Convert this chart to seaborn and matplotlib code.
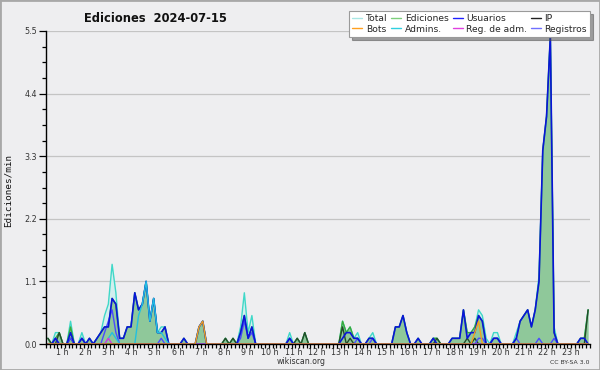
import numpy as np
import pandas as pd
import matplotlib
matplotlib.use("Agg")
import matplotlib.pyplot as plt
from matplotlib.lines import Line2D
from matplotlib.patches import Rectangle
import seaborn as sns

# ---- data: edits per minute, 10-minute bins (6 per hour, 24 hours) ----
total = [.1,0,.2,.2,0,0,  .4,0,0,.2,0,.1,  0,.1,.2,.5,.7,1.4,  .9,.1,.1,.3,.3,.9,
         .6,.7,1.1,.4,.8,.2,  .3,.3,0,0,0,0,  .1,0,0,0,.3,.4,  0,0,0,0,0,.1,
         0,.1,0,.3,.9,.2,  .5,0,0,0,0,0,  0,0,0,0,.2,0,  .1,0,.2,0,0,0,
         0,0,0,0,0,0,  .4,.2,.3,.1,.2,0,  0,.1,.2,0,0,0,  0,0,.3,.3,.5,.2,
         0,0,.1,0,0,0,  .1,.1,0,0,0,.1,  .1,.1,.6,.2,.2,.3,  .6,.5,.1,0,.2,.2,
         0,0,0,0,.2,.4,  .5,.6,.3,.6,1.2,3.4,  4.0,5.4,.3,0,0,0,  0,0,0,.1,.1,.6]
ediciones = [.1,0,.1,.2,0,0,  .3,0,0,.1,0,.1,  0,.1,.2,.3,.3,.8,  .7,.1,.1,.3,.3,.9,
             .6,.7,1.1,.4,.8,.2,  .2,.3,0,0,0,0,  .1,0,0,0,.3,.4,  0,0,0,0,0,.1,
             0,.1,0,.2,.5,.1,  .3,0,0,0,0,0,  0,0,0,0,.1,0,  .1,0,.2,0,0,0,
             0,0,0,0,0,0,  .4,.2,.3,.1,.1,0,  0,.1,.1,0,0,0,  0,0,.3,.3,.5,.2,
             0,0,.1,0,0,0,  .1,.1,0,0,0,.1,  .1,.1,.6,.2,.2,.3,  .5,.4,0,0,.1,.1,
             0,0,0,0,.1,.4,  .5,.6,.3,.6,1.1,3.4,  4.0,5.4,.2,0,0,0,  0,0,0,.1,.1,.6]
usuarios = [0,0,.1,0,0,0,  .2,0,0,.1,0,.1,  0,.1,.2,.3,.3,.8,  .7,.1,.1,.3,.3,.9,
            .6,.7,1.1,.4,.8,.2,  .2,.3,0,0,0,0,  .1,0,0,0,.3,.4,  0,0,0,0,0,0,
            0,0,0,.2,.5,.1,  .3,0,0,0,0,0,  0,0,0,0,.1,0,  0,0,0,0,0,0,
            0,0,0,0,0,0,  .1,.2,.2,.1,.1,0,  0,.1,.1,0,0,0,  0,0,.3,.3,.5,.2,
            0,0,.1,0,0,0,  .1,0,0,0,0,.1,  .1,.1,.6,.1,.2,.2,  .5,.4,0,0,.1,.1,
            0,0,0,0,.1,.4,  .5,.6,.3,.6,1.1,3.4,  4.0,5.4,.2,0,0,0,  0,0,0,.1,.1,0]
ip = [.1,0,0,.2,0,0,  .1,0,0,0,0,0,  0,0,0,0,0,0,  0,0,0,0,0,0,
      0,0,0,0,0,0,  0,0,0,0,0,0,  0,0,0,0,0,0,  0,0,0,0,0,.1,
      0,.1,0,0,0,0,  0,0,0,0,0,0,  0,0,0,0,0,0,  .1,0,.2,0,0,0,
      0,0,0,0,0,0,  .3,0,.1,0,0,0,  0,0,0,0,0,0,  0,0,0,0,0,0,
      0,0,0,0,0,0,  0,.1,0,0,0,0,  0,0,0,.1,0,.1,  0,0,0,0,0,0,
      0,0,0,0,0,0,  0,0,0,0,0,0,  0,0,0,0,0,0,  0,0,0,0,0,.6]
bots = [0]*36 + [0,0,0,0,.3,.4] + [0]*66 + [0,0,0,0,0,.2] + [.4,0,0,0,0,0] + [0]*24
admins = [0]*12 + [0,0,0,0,.1,.2] + [.1,0,0,0,0,0] + [.5,.7,1.1,.4,.8,.2] + [.2,.1,0,0,0,0] + [0]*108
reg_adm = [0]*12 + [0,0,0,0,.1,0] + [0]*126
registros = [0,0,.1,0,0,0,  .1,0,0,.1,0,0,  0,0,0,.2,.4,.6,  .2,0,0,0,0,0,
             0,0,0,0,0,0,  .1,0,0,0,0,0,  0,0,0,0,0,0,  0,0,0,0,0,0,
             0,0,0,.1,.4,.1,  .2,0,0,0,0,0,  0,0,0,0,.1,0,  0,0,0,0,0,0,
             0,0,0,0,0,0,  0,0,0,0,.1,0,  0,0,.1,0,0,0,  0,0,0,0,0,0,
             0,0,0,0,0,0,  0,0,0,0,0,0,  0,0,0,0,0,0,  .1,.1,0,0,.1,.1,
             0,0,0,0,.1,0,  0,0,0,0,.1,0,  0,0,.1,0,0,0,  0,0,0,0,0,0]
hour_labels = [f"{h} h" for h in range(1, 24)]
yticks = [0.0, 1.1, 2.2, 3.3, 4.4, 5.5]

hours = (np.arange(144) + 0.5) / 6.0
df = pd.DataFrame({"t": hours, "Total": total, "Ediciones": ediciones,
                   "Usuarios": usuarios, "IP": ip, "Bots": bots,
                   "Admins.": admins, "Reg. de adm.": reg_adm,
                   "Registros": registros})

BG = "#eeeef0"
sns.set_style("ticks", {"axes.facecolor": BG, "figure.facecolor": BG})
plt.rcParams["font.family"] = ["DejaVu Sans"]

fig = plt.figure(figsize=(6, 3.7), dpi=100)
ax = fig.add_axes([46/600, 26/370, 544/600, 313/370])
ax.set_facecolor(BG)

# fills
ax.fill_between(df["t"], df["Total"], color="#d2efee", lw=0, zorder=1)
ax.fill_between(df["t"], df["Ediciones"], color="#8fc89a", lw=0, zorder=2)

styles = [
    ("Total", "#3fd8c8", 1.0, 3),
    ("Ediciones", "#3aaa3a", 1.0, 4),
    ("IP", "#234a2a", 1.0, 5),
    ("Registros", "#4a4aff", 1.0, 6),
    ("Usuarios", "#0a14d8", 1.2, 7),
    ("Admins.", "#22c0e0", 1.0, 8),
    ("Reg. de adm.", "#d838d8", 1.0, 9),
    ("Bots", "#f0a020", 1.0, 10),
]
for name, col, lw, z in styles:
    sns.lineplot(data=df, x="t", y=name, color=col, linewidth=lw, ax=ax,
                 legend=False, zorder=z)

ax.set_xlim(0, 24)
ax.set_ylim(0, 5.5)

# y axis
ax.set_yticks(yticks)
ax.set_yticklabels([f"{v:.1f}" for v in yticks])
ax.set_yticks(np.arange(0, 5.5001, 0.275), minor=True)
ax.yaxis.grid(True, which="major", color="#c4c4c4", lw=0.9)
ax.set_axisbelow(True)
ax.tick_params(axis="y", which="major", length=5, width=0.9, labelsize=5.8,
               labelcolor="#333333", pad=1.5, color="black")
ax.tick_params(axis="y", which="minor", length=3, width=0.9, color="black")

# x axis
label_pos = [(39.3 + 23.09 * h - 46) / (544 / 24) for h in range(1, 24)]
ax.set_xticks(label_pos)
ax.set_xticklabels(hour_labels)
ax.set_xticks(np.arange(0, 24.001, 1/6), minor=True)
ax.tick_params(axis="x", which="major", length=0, labelsize=5.8,
               labelcolor="#333333", pad=2.6)
ax.tick_params(axis="x", which="minor", length=3.2, width=0.9, color="black")

for s in ["top", "right"]:
    ax.spines[s].set_visible(False)
for s in ["left", "bottom"]:
    ax.spines[s].set_color("black")
    ax.spines[s].set_linewidth(1.0)
    ax.spines[s].set_zorder(20)

ax.set_xlabel("")
ax.set_ylabel("Ediciones/min", family="DejaVu Sans Mono", fontsize=6.7,
              color="#111111")
ax.yaxis.set_label_coords(-0.061, 0.49)

# title and footers
fig.text(155/600, 1 - 18/370, "Ediciones  2024-07-15", ha="center",
         va="center", fontsize=8.3, fontweight="bold", color="#111111")
fig.text(301/600, 1 - 361/370, "wikiscan.org", ha="center", va="center",
         fontsize=5.6, color="#333333")
fig.text(590/600, 1 - 362/370, "CC BY-SA 3.0", ha="right", va="center",
         fontsize=4.4, color="#333333")

# legend
leg_items = [("Total", "#a8e6e4"), ("Bots", "#ffa020"),
             ("Ediciones", "#7ccf7c"), ("Admins.", "#30d0e0"),
             ("Usuarios", "#2020ff"), ("Reg. de adm.", "#e040e0"),
             ("IP", "#222222"), ("Registros", "#7070ff")]
handles = [Line2D([0], [0], color=c, lw=1.0) for _, c in leg_items]
leg = fig.legend(handles, [n for n, _ in leg_items], ncol=4,
                 loc="upper right", bbox_to_anchor=(590/600, 1 - 11/370),
                 fontsize=6.6, frameon=True, fancybox=False, shadow=True,
                 handlelength=1.1, handletextpad=0.35, columnspacing=0.45,
                 labelspacing=0.15, borderpad=0.35, borderaxespad=0)
leg.get_frame().set_facecolor("white")
leg.get_frame().set_edgecolor("#9a9a9a")
leg.get_frame().set_linewidth(0.8)
leg.get_frame().set_alpha(1)

fig.patches.append(Rectangle((0, 0), 1, 1, transform=fig.transFigure,
                             fill=False, edgecolor="#a8a8a8", lw=2.0))

fig.savefig("out.png", dpi=100, facecolor=BG)
